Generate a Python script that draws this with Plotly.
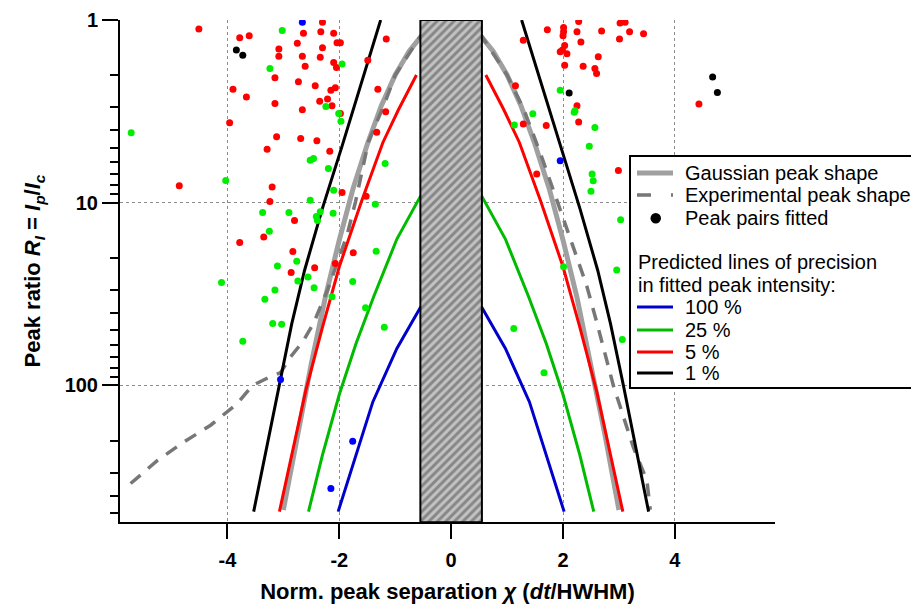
import plotly.graph_objects as go

FONT = "Liberation Sans, Arial, sans-serif"

# ---- predicted precision lines (x = normalised separation, y = peak ratio) ----
gauss_x = [-3.0, -2.75, -2.5, -2.25, -2.0, -1.75, -1.5, -1.25, -1.0, -0.75, -0.5, -0.25, 0.0,
           0.25, 0.5, 0.75, 1.0, 1.25, 1.5, 1.75, 2.0, 2.25, 2.5, 2.75, 3.0]
gauss_y = [480, 186, 76, 33, 16, 8.3, 4.8, 2.95, 2.0, 1.48, 1.19, 1.04, 1.0,
           1.04, 1.19, 1.48, 2.0, 2.95, 4.8, 8.3, 16, 33, 76, 186, 480]

exp_x = [-5.73, -5.25, -4.78, -4.30, -3.83, -3.55, -3.30, -3.05, -2.87, -2.65, -2.46, -2.20,
         -1.86, -1.71, -1.48, -1.18, -1.0, -0.55, 0.0, 0.55, 1.0, 1.30, 1.62, 1.89, 2.07, 2.25,
         2.42, 2.60, 2.90, 3.26, 3.50, 3.56]
exp_y = [344, 257, 204, 165, 126, 100, 91.6, 85.1, 69.7, 57.5, 45.7, 29.5,
         15.0, 9.89, 4.65, 2.82, 2.0, 1.23, 1.0, 1.23, 2.0, 3.09, 5.62, 9.66, 14.1, 20.0,
         28.2, 44.7, 100, 219, 331, 479]

p100_x = [-2.02, -1.70, -1.40, -0.97, -0.55, 0.55, 0.97, 1.40, 1.70, 2.02]
p100_y = [490, 240, 123, 62.7, 37.4, 37.4, 62.7, 123, 240, 490]

p25_x = [-2.55, -2.30, -2.0, -1.70, -1.38, -0.97, -0.55, 0.55, 0.97, 1.38, 1.70, 2.0, 2.30, 2.55]
p25_y = [490, 240, 112, 58.9, 32.4, 15.8, 9.23, 9.23, 15.8, 32.4, 58.9, 112, 240, 490]

p5_left_x = [-3.07, -2.85, -2.60, -2.30, -2.0, -1.60, -1.22, -0.94, -0.62]
p5_left_y = [490, 245, 107, 47.9, 22.4, 9.77, 4.68, 3.09, 2.0]
p5_right_x = [0.62, 0.94, 1.22, 1.60, 2.0, 2.30, 2.60, 2.85, 3.07]
p5_right_y = [2.0, 3.09, 4.68, 9.77, 22.4, 47.9, 107, 245, 490]

p1_left_x = [-3.53, -3.30, -3.08, -2.85, -2.62, -2.30, -1.95, -1.60, -1.26]
p1_left_y = [490, 219, 100, 46, 23.4, 10.7, 4.9, 2.19, 1.0]
p1_right_x = [1.26, 1.60, 1.95, 2.30, 2.62, 2.85, 3.08, 3.30, 3.53]
p1_right_y = [1.0, 2.19, 4.9, 10.7, 23.4, 46, 100, 219, 490]

# excluded region around zero separation
band_x = [-0.55, 0.55]

# ---- fitted peak pairs, coloured by achieved precision ----
red_x = [-4.51, -2.64, -3.78, -3.61, -2.75, -3.08, -3.08, -2.66, -2.61, -3.15, -2.73, -3.90,
         -3.66, -3.15, -2.66, -3.96, -3.12, -2.69, -2.30, -2.33, -2.10, -2.04, -1.98, -1.16,
         -2.30, -2.34, -2.10, -2.05, -1.49, -2.43, -2.15, -2.07, -1.31, -2.35, -2.21, -2.13,
         -1.98, -1.17, -1.33, -2.40, -4.86, -3.29, -3.20, -3.24, -2.80, -3.35, -3.78, -2.83,
         -2.17, -1.95, -1.52, -1.75, -2.07, -2.44, -2.86,
         2.28, 2.01, 2.01, 2.00, 1.72, 2.25, 2.69, 3.02, 3.11, 3.19, 3.44, 3.01, 1.29, 2.32,
         2.03, 1.99, 1.95, 2.07, 2.63, 2.03, 2.36, 2.57, 2.60, 1.15, 2.25, 2.28, 1.29, 1.70,
         1.53, 2.99, 4.43]
red_y = [1.12, 1.18, 1.25, 1.22, 1.34, 1.44, 1.58, 1.58, 1.79, 2.07, 2.18, 2.39,
         2.64, 2.86, 3.10, 3.65, 4.36, 4.45, 1.03, 1.16, 1.18, 1.33, 1.33, 1.27,
         1.42, 1.60, 1.71, 1.82, 1.66, 2.29, 2.42, 2.35, 2.39, 2.78, 2.71, 2.95,
         3.25, 3.18, 4.12, 4.58, 8.08, 5.09, 8.21, 9.84, 12.5, 15.4, 16.5, 18.5,
         5.22, 8.78, 9.20, 18.8, 21.5, 22.7, 24.1,
         1.02, 1.10, 1.16, 1.22, 1.13, 1.16, 1.15, 1.04, 1.03, 1.16, 1.19, 1.27, 1.29, 1.32,
         1.38, 1.46, 1.49, 1.53, 1.59, 1.77, 1.79, 1.84, 1.96, 2.29, 2.95, 3.61, 3.71, 3.78,
         6.97, 6.66, 2.88]

green_x = [-3.02, -3.24, -1.95, -2.24, -2.01, -1.97, -5.72, -4.03, -2.52, -2.46, -2.195, -1.18,
           -2.10, -2.52, -1.355, -2.34, -2.41, -2.39, -2.11, -3.37, -2.90, -3.25, -2.76, -3.105,
           -1.34, -4.105, -2.74, -2.56, -1.76, -3.15, -2.45, -2.13, -3.33, -1.53, -3.19, -3.03,
           -1.195, -3.725,
           1.95, 2.215, 2.20, 1.46, 1.13, 2.57, 2.47, 2.52, 2.54, 2.50, 3.03, 2.01, 2.96, 1.12,
           1.66, 3.06]
green_y = [1.14, 1.84, 1.74, 2.97, 3.25, 3.58, 4.14, 7.55, 5.85, 5.72, 6.49, 6.09,
           8.53, 9.68, 10.2, 11.2, 11.9, 12.5, 11.4, 11.3, 11.3, 14.3, 20.9, 22.2,
           18.4, 27.3, 26.8, 25.5, 27.0, 30.0, 29.2, 32.7, 33.7, 37.6, 45.8, 46.2,
           48.0, 57.2,
           2.42, 3.14, 3.20, 3.26, 3.76, 3.87, 4.90, 6.97, 7.59, 8.64, 12.4, 22.4, 23.3, 48.8,
           85.3, 56.0]

blue_x = [-2.66, 1.95, -3.05, -1.76, -2.15]
blue_y = [1.03, 5.90, 92.7, 202, 366]

black_x = [-3.84, -3.725, 2.11, 4.675, 4.76]
black_y = [1.46, 1.56, 2.51, 2.05, 2.49]

GAUSS_GREY = "#a0a0a0"
EXP_GREY = "#777777"
C100 = "#0000cc"
C25 = "#00bb00"
C5 = "#ff0000"
C1 = "#000000"

fig = go.Figure()


def line(x, y, color, width, dash="solid"):
    fig.add_trace(go.Scatter(x=x, y=y, mode="lines", showlegend=False, hoverinfo="skip",
                             line=dict(color=color, width=width, dash=dash)))


line(gauss_x, gauss_y, GAUSS_GREY, 5)
line(exp_x, exp_y, EXP_GREY, 3.5, dash="13px,10px")
line(p100_x, p100_y, C100, 3)
line(p25_x, p25_y, C25, 3)
line(p5_left_x, p5_left_y, C5, 3)
line(p5_right_x, p5_right_y, C5, 3)
line(p1_left_x, p1_left_y, C1, 3)
line(p1_right_x, p1_right_y, C1, 3)

# hatched band over the unresolvable region
y_lo, y_hi = 1.0, 560
fig.add_trace(go.Scatter(
    x=[band_x[0], band_x[1], band_x[1], band_x[0], band_x[0]],
    y=[y_hi, y_hi, y_lo, y_lo, y_hi],
    mode="lines", fill="toself", showlegend=False, hoverinfo="skip",
    fillcolor="#878787",
    fillpattern=dict(shape="/", fgcolor="#ffffff", bgcolor="#878787", size=6, solidity=0.5),
    line=dict(color="black", width=2)))


def dots(x, y, color):
    fig.add_trace(go.Scatter(x=x, y=y, mode="markers", showlegend=False, hoverinfo="skip",
                             marker=dict(color=color, size=7, line=dict(width=0))))


dots(red_x, red_y, "#ff0000")
dots(green_x, green_y, "#00ee00")
dots(blue_x, blue_y, "#0000ff")
dots(black_x, black_y, "#000000")

fig.update_xaxes(
    range=[-5.92, 5.79], showline=True, linecolor="black", linewidth=2, mirror=False,
    automargin=False,
    tickvals=[-4, -2, 0, 2, 4], ticktext=["-4", "-2", "0", "2", "4"],
    ticks="outside", ticklen=15, tickwidth=2, tickcolor="black", ticklabelstandoff=4,
    tickfont=dict(family=FONT, size=20, color="black", weight="bold"),
    showgrid=True, gridcolor="#8c8c8c", gridwidth=1, griddash="dot", zeroline=False,
    title=dict(text="Norm. peak separation <i>χ</i> (<i>dt</i>/HWHM)",
               font=dict(family=FONT, size=22, color="black", weight="bold"), standoff=15))

fig.update_yaxes(
    type="log", range=[2.747, 0], showline=True, linecolor="black", linewidth=2, mirror=False,
    automargin=False,
    tickvals=[1, 10, 100], ticktext=["1", "10", "100"],
    ticks="outside", ticklen=16, tickwidth=2, tickcolor="black",
    minor=dict(ticks="outside", ticklen=8, tickwidth=2, tickcolor="black", dtick="D1",
               showgrid=False),
    tickfont=dict(family=FONT, size=20, color="black", weight="bold"),
    showgrid=True, gridcolor="#8c8c8c", gridwidth=1, griddash="dot", zeroline=False,
    title=dict(text="Peak ratio <i>R<sub>I</sub></i> = <i>I<sub>p</sub></i>/<i>I<sub>c</sub></i>",
               font=dict(family=FONT, size=22, color="black", weight="bold"), standoff=18))

# ---- legend panel ----
L, R, B, T = 120, 775, 522, 20


def px(v):
    return (v - L) / (R - L)


def py(v):
    return (B - v) / (B - T)


shapes = [dict(type="rect", xref="paper", yref="paper", x0=px(630), x1=px(913),
               y0=py(388), y1=py(156), line=dict(color="black", width=2),
               fillcolor="white", layer="above")]
sx0, sx1 = px(637), px(673)
legend_lines = [
    (173, GAUSS_GREY, 5, "solid"),
    (195, EXP_GREY, 3.5, "14px,20px"),
    (307, C100, 3, "solid"),
    (330, C25, 3, "solid"),
    (352, C5, 3, "solid"),
    (373, C1, 3, "solid"),
]
for yy, c, w, d in legend_lines:
    shapes.append(dict(type="line", xref="paper", yref="paper", x0=sx0, x1=sx1,
                       y0=py(yy), y1=py(yy), line=dict(color=c, width=w, dash=d),
                       layer="above"))
shapes.append(dict(type="circle", xref="paper", yref="paper", layer="above",
                   x0=px(650.5), x1=px(661), y0=py(223.5), y1=py(213),
                   fillcolor="black", line=dict(width=0)))

legend_text = [
    (683, 173, "Gaussian peak shape"),
    (683, 195, "Experimental peak shape"),
    (683, 218, "Peak pairs fitted"),
    (636, 262, "Predicted lines of precision"),
    (636, 285, "in fitted peak intensity:"),
    (683, 307, "100 %"),
    (683, 330, "25 %"),
    (683, 352, "5 %"),
    (683, 373, "1 %"),
]
annotations = [dict(xref="paper", yref="paper", x=px(xx), y=py(yy), text=t,
                    showarrow=False, xanchor="left", yanchor="middle",
                    font=dict(family=FONT, size=20, color="black"))
               for xx, yy, t in legend_text]

fig.update_layout(
    width=911, height=604, paper_bgcolor="white", plot_bgcolor="white",
    margin=dict(l=L, r=911 - R, t=T, b=604 - B, pad=0),
    shapes=shapes, annotations=annotations, showlegend=False,
    font=dict(family=FONT, color="black"))

fig.write_html("out.html")
